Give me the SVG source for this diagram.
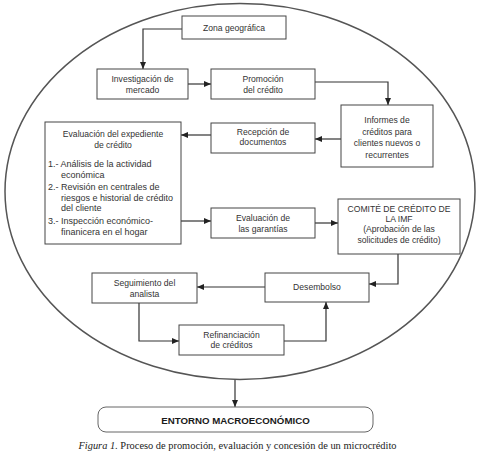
<svg xmlns="http://www.w3.org/2000/svg" width="480" height="454" viewBox="0 0 480 454">
<style>
.box{fill:#fff;stroke:#444;stroke-width:1}
.t{font-family:"Liberation Sans",Arial,sans-serif;font-size:8.6px;fill:#333;text-anchor:middle}
.l{font-family:"Liberation Sans",Arial,sans-serif;font-size:9px;fill:#333}
.c{fill:none;stroke:#333;stroke-width:1.2;marker-end:url(#ah)}
</style>
<defs>
<marker id="ah" markerUnits="userSpaceOnUse" markerWidth="7" markerHeight="6" refX="7" refY="3" orient="auto">
<path d="M0,0 L7,3 L0,6 z" fill="#222"/>
</marker>
</defs>
<rect width="480" height="454" fill="#fff"/>
<g id="ellipse"><ellipse cx="240" cy="191.5" rx="235" ry="188" fill="none" stroke="#555" stroke-width="1.5"/></g>
<g id="connectors">
<path class="c" d="M182,29 H143 V69"/>
<path class="c" d="M188,84 H211"/>
<path class="c" d="M315,82 H388 V105"/>
<path class="c" d="M341,139 H315"/>
<path class="c" d="M211,135 H181"/>
<path class="c" d="M181,221 H211"/>
<path class="c" d="M315,223 H338"/>
<path class="c" d="M398,254 V284 H369"/>
<path class="c" d="M265,287 H197"/>
<path class="c" d="M139,303 V341 H179"/>
<path class="c" d="M284,341 H326 V302"/>
<path class="c" d="M235,380 V407"/>
</g>
<g id="zona"><rect class="box" x="182" y="16" width="104" height="23"/><text class="t" x="234" y="30.5">Zona geográfica</text></g>
<g id="investigacion"><rect class="box" x="97" y="69" width="91" height="30"/><text class="t" x="142.5" y="82">Investigación de</text><text class="t" x="142.5" y="92.5">mercado</text></g>
<g id="promocion"><rect class="box" x="211" y="69" width="104" height="30"/><text class="t" x="263" y="82">Promoción</text><text class="t" x="263" y="92.5">del crédito</text></g>
<g id="informes"><rect class="box" x="341" y="105" width="92" height="62"/><text class="t" x="387" y="122.5">Informes de</text><text class="t" x="387" y="134.5">créditos para</text><text class="t" x="387" y="146">clientes nuevos o</text><text class="t" x="387" y="158">recurrentes</text></g>
<g id="recepcion"><rect class="box" x="211" y="123" width="104" height="30"/><text class="t" x="263" y="134.5">Recepción de</text><text class="t" x="263" y="145">documentos</text></g>
<g id="expediente"><rect class="box" x="45" y="122" width="136" height="122"/>
<text class="t" x="113" y="137">Evaluación del expediente</text>
<text class="t" x="113" y="148">de crédito</text>
<text class="l" x="48" y="167">1.- Análisis de la actividad</text>
<text class="l" x="61" y="178">económica</text>
<text class="l" x="48" y="190">2.- Revisión en centrales de</text>
<text class="l" x="61" y="200.5">riesgos e historial de crédito</text>
<text class="l" x="61" y="211">del cliente</text>
<text class="l" x="48" y="224">3.- Inspección económico-</text>
<text class="l" x="61" y="235">finanicera en el hogar</text>
</g>
<g id="garantias"><rect class="box" x="211" y="208" width="104" height="30"/><text class="t" x="263" y="221">Evaluación de</text><text class="t" x="263" y="231.5">las garantías</text></g>
<g id="comite"><rect class="box" x="338" y="199" width="122" height="55"/><text class="t" x="399" y="211.5">COMITÉ DE CRÉDITO DE</text><text class="t" x="399" y="221.5">LA IMF</text><text class="t" x="399" y="232">(Aprobación de las</text><text class="t" x="399" y="242.5">solicitudes de crédito)</text></g>
<g id="desembolso"><rect class="box" x="265" y="273" width="104" height="29"/><text class="t" x="317" y="290">Desembolso</text></g>
<g id="seguimiento"><rect class="box" x="92" y="273" width="105" height="30"/><text class="t" x="144.5" y="286">Seguimiento del</text><text class="t" x="144.5" y="296.5">analista</text></g>
<g id="refinanciacion"><rect class="box" x="179" y="325" width="105" height="30"/><text class="t" x="231.5" y="337.5">Refinanciación</text><text class="t" x="231.5" y="348">de créditos</text></g>
<g id="entorno"><rect x="98" y="407" width="275" height="25" rx="8" ry="8" fill="#fff" stroke="#666" stroke-width="1"/><text x="235.5" y="423.5" font-family="'Liberation Sans',Arial,sans-serif" font-size="9.7" font-weight="bold" fill="#1a1a1a" text-anchor="middle">ENTORNO MACROECONÓMICO</text></g>
<text x="237.5" y="449" font-family="'Liberation Serif','Times New Roman',serif" font-size="10.4" fill="#222" text-anchor="middle"><tspan font-style="italic">Figura 1.</tspan> Proceso de promoción, evaluación y concesión de un microcrédito</text>
</svg>
